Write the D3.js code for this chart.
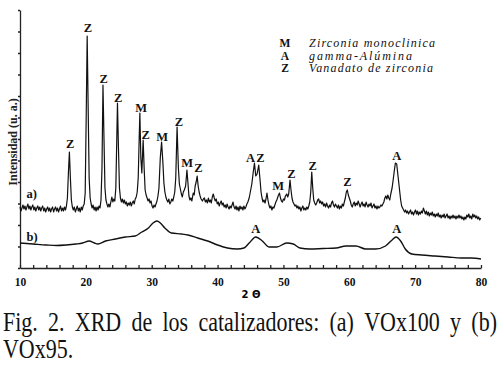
<!DOCTYPE html>
<html lang="es">
<head>
<meta charset="UTF-8">
<title>XRD de los catalizadores</title>
<script src="https://d3js.org/d3.v7.min.js"></script>
<style>
  body { margin: 0; background: #fff; }
  svg { display: block; }
  .axis path, .axis line { stroke: #222; stroke-width: 1.3; }
  .axis text { font-family: "Liberation Serif", serif; font-weight: bold; font-size: 11.5px; fill: #111; }
  .peak { font-family: "Liberation Serif", serif; font-weight: bold; font-size: 12.5px; fill: #111; text-anchor: middle; }
  .legend { font-family: "Liberation Serif", serif; font-size: 12px; fill: #111; }
</style>
</head>
<body>
<div id="chart"></div>
<script>
// curva a) VOx100 : [2θ, intensidad]
var curveA = [
  [10.0,61],[10.15,57],[10.3,60],[10.45,63],[10.6,59],[10.75,62],[10.9,58],[11.05,61],[11.2,64],[11.35,59],
  [11.5,62],[11.65,58],[11.8,61],[11.95,63],[12.1,58],[12.25,61],[12.4,57],[12.55,60],[12.7,62],[12.85,58],
  [13.0,61],[13.15,57],[13.3,60],[13.45,62],[13.6,57],[13.75,60],[13.9,56],[14.05,59],[14.2,61],[14.35,57],
  [14.5,60],[14.65,56],[14.8,59],[14.95,61],[15.1,56],[15.25,59],[15.4,61],[15.55,57],[15.7,60],[15.85,56],
  [16.0,59],[16.15,62],[16.3,57],[16.45,60],[16.6,57],[16.75,61],[16.9,58],[17.05,62],[17.2,70],[17.35,95],
  [17.5,116],[17.65,90],[17.8,68],[17.95,61],[18.1,58],[18.25,61],[18.4,56],[18.55,59],[18.7,62],[18.85,57],
  [19.0,60],[19.15,56],[19.3,61],[19.45,58],[19.6,62],[19.75,64],[19.9,75],[20.05,150],[20.2,232],[20.35,160],
  [20.5,90],[20.65,70],[20.8,64],[20.95,60],[21.1,63],[21.25,58],[21.4,61],[21.55,57],[21.7,61],[21.85,58],
  [22.0,62],[22.15,60],[22.3,68],[22.45,100],[22.6,183],[22.75,130],[22.9,80],[23.05,68],[23.2,64],[23.35,61],
  [23.5,64],[23.65,61],[23.8,66],[23.95,71],[24.1,66],[24.25,69],[24.4,67],[24.55,80],[24.7,130],[24.8,165],
  [24.95,120],[25.1,80],[25.25,70],[25.4,66],[25.55,69],[25.7,65],[25.85,68],[26.0,64],[26.15,66],[26.3,62],
  [26.45,65],[26.6,63],[26.75,66],[26.9,62],[27.05,65],[27.2,67],[27.35,64],[27.5,69],[27.65,71],[27.8,76],
  [27.95,90],[28.1,130],[28.2,155],[28.35,110],[28.5,95],[28.7,128],[28.85,100],[29.0,78],[29.15,73],[29.3,70],
  [29.45,67],[29.6,69],[29.75,65],[29.9,67],[30.05,62],[30.2,60],[30.35,63],[30.5,61],[30.65,64],[30.8,67],
  [30.95,72],[31.1,80],[31.3,110],[31.5,126],[31.7,105],[31.85,85],[32.0,76],[32.15,71],[32.3,68],[32.45,66],
  [32.6,69],[32.75,64],[32.9,66],[33.05,69],[33.2,67],[33.35,71],[33.5,76],[33.65,90],[33.85,141],[34.05,100],
  [34.2,84],[34.35,79],[34.5,74],[34.65,71],[34.8,76],[34.95,78],[35.15,82],[35.35,98],[35.5,85],[35.65,72],
  [35.8,68],[35.95,70],[36.1,67],[36.3,75],[36.45,73],[36.6,82],[36.75,86],[36.9,92],[37.05,82],[37.2,76],
  [37.35,72],[37.5,69],[37.7,67],[37.85,69],[38.0,70],[38.15,66],[38.3,68],[38.45,65],[38.6,70],[38.75,66],
  [38.9,68],[39.05,65],[39.2,71],[39.35,74],[39.5,70],[39.65,67],[39.8,69],[39.95,64],[40.1,66],[40.25,62],
  [40.4,65],[40.55,67],[40.7,63],[40.85,65],[41.0,61],[41.15,63],[41.3,60],[41.45,64],[41.6,61],[41.75,59],
  [41.9,62],[42.05,60],[42.2,63],[42.35,66],[42.5,61],[42.65,59],[42.8,62],[42.95,58],[43.1,61],[43.25,57],
  [43.4,62],[43.55,59],[43.7,61],[43.85,58],[44.0,62],[44.15,59],[44.3,61],[44.45,64],[44.6,66],[44.8,70],
  [45.0,77],[45.2,84],[45.4,95],[45.6,105],[45.8,92],[46.0,94],[46.25,103],[46.45,88],[46.6,76],[46.75,70],
  [46.9,66],[47.05,68],[47.2,65],[47.35,69],[47.5,75],[47.65,68],[47.8,63],[47.95,60],[48.1,62],[48.25,58],
  [48.4,61],[48.55,60],[48.7,63],[48.85,66],[49.0,68],[49.2,72],[49.4,75],[49.55,70],[49.7,67],[49.85,66],
  [50.0,69],[50.15,68],[50.3,72],[50.5,74],[50.65,71],[50.8,74],[51.0,88],[51.15,78],[51.3,70],[51.45,66],
  [51.6,64],[51.75,62],[51.9,63],[52.05,60],[52.2,62],[52.35,59],[52.5,61],[52.65,57],[52.8,60],[52.95,62],
  [53.1,58],[53.25,60],[53.4,58],[53.55,61],[53.7,59],[53.85,62],[54.0,66],[54.15,76],[54.3,96],[54.45,80],
  [54.6,68],[54.75,65],[54.9,63],[55.05,65],[55.2,68],[55.35,69],[55.5,65],[55.65,67],[55.8,64],[55.95,66],
  [56.1,62],[56.25,64],[56.4,61],[56.55,65],[56.7,62],[56.85,60],[57.0,63],[57.15,61],[57.3,65],[57.45,67],
  [57.6,63],[57.75,61],[57.9,64],[58.05,62],[58.2,60],[58.35,63],[58.5,59],[58.65,62],[58.8,60],[58.95,64],
  [59.1,62],[59.25,66],[59.4,70],[59.55,76],[59.7,78],[59.85,73],[60.0,70],[60.15,67],[60.3,63],[60.45,61],
  [60.6,64],[60.75,66],[60.9,62],[61.05,65],[61.2,63],[61.35,67],[61.5,64],[61.65,61],[61.8,64],[61.95,66],
  [62.1,62],[62.25,64],[62.4,61],[62.55,66],[62.7,63],[62.85,61],[63.0,64],[63.15,62],[63.3,65],[63.45,60],
  [63.6,62],[63.75,64],[63.9,60],[64.05,62],[64.2,59],[64.35,62],[64.5,60],[64.65,61],[64.8,63],[64.95,62],
  [65.1,64],[65.25,66],[65.4,70],[65.55,72],[65.7,69],[65.85,73],[66.0,70],[66.15,68],[66.3,74],[66.5,80],
  [66.7,90],[66.85,98],[67.0,105],[67.2,104],[67.4,92],[67.6,80],[67.8,68],[67.95,62],[68.1,60],[68.25,58],
  [68.4,56],[68.55,58],[68.7,55],[68.85,57],[69.0,54],[69.15,56],[69.3,58],[69.45,54],[69.6,56],[69.75,53],
  [69.9,56],[70.05,58],[70.2,54],[70.35,57],[70.5,53],[70.65,56],[70.8,54],[70.95,57],[71.1,55],[71.25,60],
  [71.4,57],[71.55,54],[71.7,57],[71.85,53],[72.0,56],[72.15,52],[72.3,55],[72.45,53],[72.6,56],[72.75,52],
  [72.9,54],[73.05,51],[73.2,54],[73.35,52],[73.5,55],[73.65,51],[73.8,53],[73.95,50],[74.1,53],[74.25,51],
  [74.4,54],[74.55,50],[74.7,52],[74.85,54],[75.0,50],[75.15,52],[75.3,49],[75.45,52],[75.6,50],[75.75,53],
  [75.9,50],[76.05,52],[76.2,49],[76.35,52],[76.5,50],[76.65,53],[76.8,50],[76.95,52],[77.1,49],[77.25,51],
  [77.4,48],[77.55,51],[77.7,49],[77.85,53],[78.0,51],[78.15,54],[78.3,50],[78.45,52],[78.6,49],[78.75,54],
  [78.9,51],[79.05,53],[79.2,50],[79.35,52],[79.5,49],[79.65,51],[79.8,48],[79.95,50]
];

// curva b) VOx95
var curveB = [
  [10,25],[12,24],[14,23],[15.5,22.5],[17,23],[18.5,24],[19.5,25],[20.5,27],[21.3,25],[21.8,24],
  [23,27],[24.5,29],[26,31],[27.5,32],[28.5,36],[29.5,40],[30.2,45],[30.8,47],[31.3,45],[32,40],
  [33,35],[34.5,34],[35.5,33],[37,30],[38.5,27],[40,23],[41.5,20],[43,19],[44,20],[44.8,25],
  [45.8,31],[46.8,27],[47.8,21],[49,21],[50.5,25],[51.5,24],[52.5,20],[54,19],[56,19.5],[58,20],
  [59.5,22],[61,22],[62.5,19],[64,19],[65.5,22],[66.5,28],[67.1,31],[67.8,27],[68.5,19],[69.5,14],
  [71,13],[73,12],[75,11],[77,10],[78.5,10],[80,9]
];

// etiquetas de picos: [fase, 2θ, nivel]
var peakLabels = [
  ["Z",17.6,120],["Z",20.3,236],["Z",22.7,185],["Z",24.9,166],["M",28.4,156],["Z",29.1,129],
  ["M",31.6,127],["Z",34.15,142],["M",35.4,101],["Z",37.1,96],["A",45.0,106],["Z",46.5,106],
  ["M",49.2,78],["Z",51.2,90],["Z",54.45,98],["Z",59.7,82],["A",67.2,108],
  ["A",45.8,35],["A",67.2,35]
];
var seriesLabels = [["a)",11.0,70],["b)",11.0,27]];

var legendKeys = ["M","A","Z"];
var legendNames = ["Zirconia monoclinica","gamma-Alúmina","Vanadato de zirconia"];
var legendWidths = [126,103,124];

var xMajor = [10,20,30,40,50,60,70,80];

var width = 501, height = 365;
var svg = d3.select("#chart").append("svg").attr("width", width).attr("height", height);

var x = d3.scaleLinear().domain([10, 80]).range([20, 481]);
var y = d3.scaleLinear().domain([0, 258]).range([268, 10]);

// ejes
svg.append("g").attr("class", "axis")
  .attr("transform", "translate(0,268)")
  .call(d3.axisBottom(x).tickValues(d3.range(10, 81, 2)).tickSize(-3).tickSizeOuter(0).tickPadding(9.5)
    .tickFormat(function (d) { return xMajor.indexOf(d) >= 0 ? d : ""; }));

svg.append("g").attr("class", "axis")
  .attr("transform", "translate(20,0)")
  .call(d3.axisLeft(y).tickValues(d3.range(0, 259, 21.5)).tickSize(2).tickSizeOuter(0).tickFormat(""));

svg.append("text")
  .attr("x", 251).attr("y", 298)
  .attr("text-anchor", "middle")
  .style("font-family", "DejaVu Sans, sans-serif").style("font-weight", "bold").style("font-size", "10px")
  .text("2 Θ");

svg.append("text")
  .attr("transform", "translate(16.5,142) rotate(-90)")
  .attr("text-anchor", "middle")
  .style("font-family", "Liberation Serif, serif").style("font-weight", "bold").style("font-size", "12px")
  .style("fill", "#222")
  .text("Intensidad (u. a.)");

// curvas
var line = d3.line().x(function (d) { return x(d[0]); }).y(function (d) { return y(d[1]); });

svg.append("path").datum(curveA)
  .attr("d", line)
  .attr("fill", "none").attr("stroke", "#111").attr("stroke-width", 1.2).attr("stroke-linejoin", "round");

svg.append("path").datum(curveB)
  .attr("d", line.curve(d3.curveMonotoneX))
  .attr("fill", "none").attr("stroke", "#111").attr("stroke-width", 1.4);

svg.selectAll(".peak").data(peakLabels).enter().append("text")
  .attr("class", "peak")
  .attr("x", function (d) { return x(d[1]); })
  .attr("y", function (d) { return y(d[2]); })
  .text(function (d) { return d[0]; });

svg.selectAll(".serie").data(seriesLabels).enter().append("text")
  .attr("class", "peak").style("text-anchor", "start")
  .attr("x", function (d) { return x(d[1]); })
  .attr("y", function (d) { return y(d[2]); })
  .text(function (d) { return d[0]; });

// leyenda
legendKeys.forEach(function (k, i) {
  var yy = 47 + i * 12.5;
  svg.append("text").attr("class", "peak").attr("x", 285).attr("y", yy).style("font-size", "11.5px").text(k);
  svg.append("text").attr("class", "legend").attr("x", 309).attr("y", yy)
    .style("font-style", "italic")
    .attr("textLength", legendWidths[i]).attr("lengthAdjust", "spacing")
    .text(legendNames[i]);
});

// pie de figura (justificado)
var capLines = [
  { words: "Fig. 2. XRD de los catalizadores: (a) VOx100 y (b)".split(" "), justify: true },
  { words: ["VOx95."], justify: false }
];
var cap = svg.append("g").attr("transform", "translate(0,331) scale(1,1.2)");
capLines.forEach(function (ln, li) {
  var texts = ln.words.map(function (w) {
    return cap.append("text")
      .attr("y", li * 22.5)
      .style("font-family", "Liberation Serif, serif").style("font-size", "22px").style("fill", "#111")
      .text(w);
  });
  var widths = texts.map(function (t) { return t.node().getComputedTextLength(); });
  var left = 3, right = 497;
  var gap = ln.justify && texts.length > 1 ? (right - left - d3.sum(widths)) / (texts.length - 1) : 5.5;
  var pos = left;
  texts.forEach(function (t, i) { t.attr("x", pos); pos += widths[i] + gap; });
});
</script>
</body>
</html>
